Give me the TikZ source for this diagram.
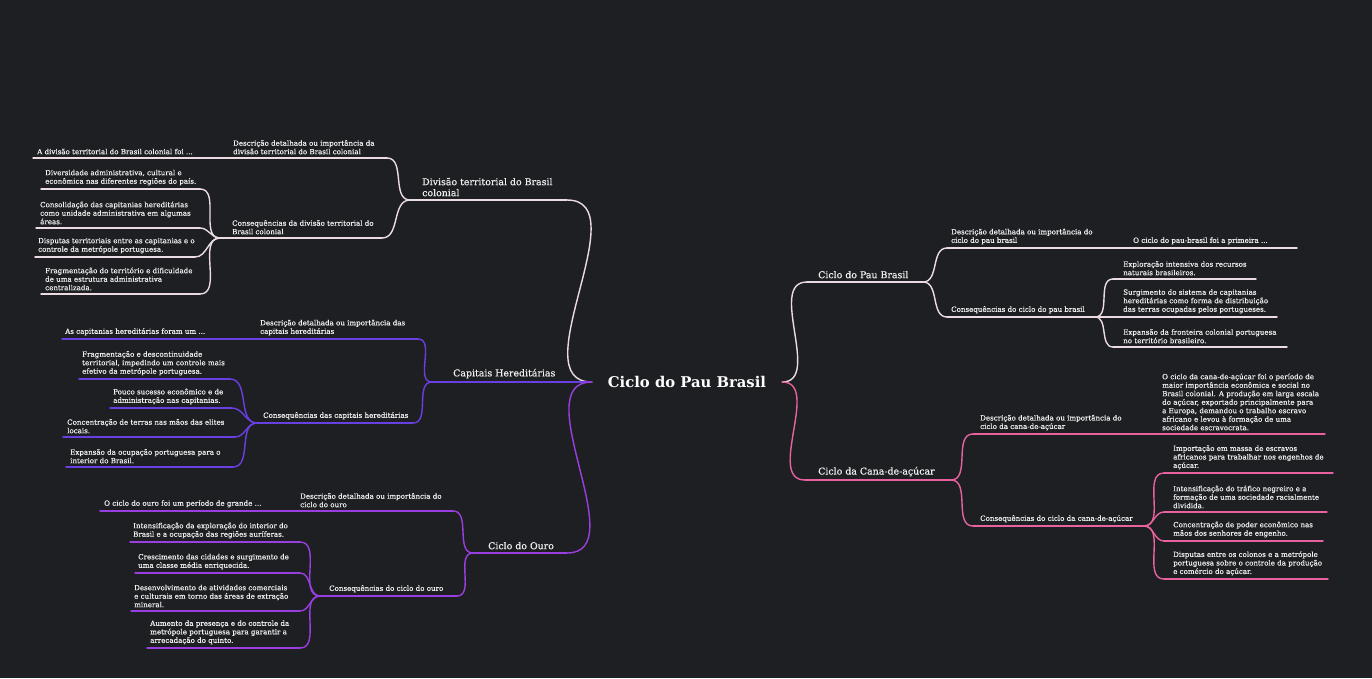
\documentclass[tikz,border=0pt]{standalone}
\usepackage{fontspec}
\setmainfont{DejaVu Serif}
\newfontfamily\smfont[FakeBold=0.35]{DejaVu Serif}
\definecolor{bg}{HTML}{1E1F23}
\definecolor{cW}{HTML}{EBDCE3}
\definecolor{cC}{HTML}{6A3FE2}
\definecolor{cO}{HTML}{9B3EE0}
\definecolor{cK}{HTML}{E8629F}
\definecolor{txt}{HTML}{F0F0F0}
\newcommand{\mmnode}[8]{%
  \coordinate (#1-l) at (#6,#5);
  \coordinate (#1-r) at (#7,#5);
  \draw[#2] (#1-l) -- (#1-r);
  \node[#3, anchor=south west] (#1) at (#4,#5-3.5) {#8};
}
\tikzset{
  x=1pt, y=-1pt,
  ln/.style={line width=1.4pt, line cap=round},
  lw/.style={ln, draw=cW}, lc/.style={ln, draw=cC}, lo/.style={ln, draw=cO}, lk/.style={ln, draw=cK},
  sm/.style={text=txt, inner sep=0pt, align=left, font=\smfont\fontsize{7.1}{8.5}\selectfont},
  br/.style={text=txt, inner sep=0pt, align=left, font=\smfont\fontsize{9.4}{11}\selectfont},
  rootst/.style={text=white, inner sep=0pt, minimum width=190pt, minimum height=16pt, font=\bfseries\fontsize{14.8}{17}\selectfont},
  cv/.style={out=180, in=0},
  cvr/.style={out=0, in=180}
}
\begin{document}
\begin{tikzpicture}
\fill[bg] (0,0) rectangle (1372,678);
\useasboundingbox (0,0) rectangle (1372,678);
\node[rootst] (root) at (687,382) {Ciclo do Pau Brasil};

% ---------------- Divisao territorial
\mmnode{D}{lw}{br}{422}{200}{410}{567}{Divisão territorial do Brasil\\colonial}
\mmnode{D1}{lw}{sm}{233}{158}{202}{387}{Descrição detalhada ou importância da\\divisão territorial do Brasil colonial}
\mmnode{D1a}{lw}{sm}{37}{158}{33}{202}{A divisão territorial do Brasil colonial foi ...}
\mmnode{D2}{lw}{sm}{232}{238}{220}{382}{Consequências da divisão territorial do\\Brasil colonial}
\mmnode{D2a}{lw}{sm}{45}{189}{41}{200}{Diversidade administrativa, cultural e\\econômica nas diferentes regiões do país.}
\mmnode{D2b}{lw}{sm}{40}{228}{36}{200}{Consolidação das capitanias hereditárias\\como unidade administrativa em algumas\\áreas.}
\mmnode{D2c}{lw}{sm}{38}{257}{35}{195}{Disputas territoriais entre as capitanias e o\\controle da metrópole portuguesa.}
\mmnode{D2d}{lw}{sm}{45}{294}{41}{200}{Fragmentação do território e dificuldade\\de uma estrutura administrativa\\centralizada.}
\draw[lw] (root.west) to[cv] (D-r);
\draw[lw] (D-l) to[cv] (D1-r);
\draw[lw] (D1-l) -- (D1a-r);
\draw[lw] (D-l) to[cv] (D2-r);
\foreach \n in {D2a,D2b,D2c,D2d} \draw[lw] (D2-l) to[cv] (\n-r);

% ---------------- Capitais
\mmnode{C}{lc}{br}{453}{382}{432}{585}{Capitais Hereditárias}
\mmnode{C1}{lc}{sm}{260}{339}{230}{418}{Descrição detalhada ou importância das\\capitais hereditárias}
\mmnode{C1a}{lc}{sm}{65}{339}{62}{230}{As capitanias hereditárias foram um ...}
\mmnode{C2}{lc}{sm}{263}{423}{257}{413}{Consequências das capitais hereditárias}
\mmnode{C2a}{lc}{sm}{82}{379}{79}{230}{Fragmentação e descontinuidade\\territorial, impedindo um controle mais\\efetivo da metrópole portuguesa.}
\mmnode{C2b}{lc}{sm}{113}{408}{110}{232}{Pouco sucesso econômico e de\\administração nas capitanias.}
\mmnode{C2c}{lc}{sm}{67}{437}{63}{235}{Concentração de terras nas mãos das elites\\locais.}
\mmnode{C2d}{lc}{sm}{70}{467}{66}{233}{Expansão da ocupação portuguesa para o\\interior do Brasil.}
\draw[lc] (root.west) -- (C-r);
\draw[lc] (C-l) to[cv] (C1-r);
\draw[lc] (C1-l) -- (C1a-r);
\draw[lc] (C-l) to[cv] (C2-r);
\foreach \n in {C2a,C2b,C2c,C2d} \draw[lc] (C2-l) to[cv] (\n-r);

% ---------------- Ouro
\mmnode{O}{lo}{br}{488}{553}{473}{567}{Ciclo do Ouro}
\mmnode{O1}{lo}{sm}{300}{511}{292}{453}{Descrição detalhada ou importância do\\ciclo do ouro}
\mmnode{O1a}{lo}{sm}{104}{511}{100}{292}{O ciclo do ouro foi um período de grande ...}
\mmnode{O2}{lo}{sm}{329}{596}{320}{457}{Consequências do ciclo do ouro}
\mmnode{O2a}{lo}{sm}{133}{542}{130}{300}{Intensificação da exploração do interior do\\Brasil e a ocupação das regiões auríferas.}
\mmnode{O2b}{lo}{sm}{138}{573}{135}{300}{Crescimento das cidades e surgimento de\\uma classe média enriquecida.}
\mmnode{O2c}{lo}{sm}{134}{611}{131}{300}{Desenvolvimento de atividades comerciais\\e culturais em torno das áreas de extração\\mineral.}
\mmnode{O2d}{lo}{sm}{150}{648}{147}{300}{Aumento da presença e do controle da\\metrópole portuguesa para garantir a\\arrecadação do quinto.}
\draw[lo] (root.west) to[cv] (O-r);
\draw[lo] (O-l) to[cv] (O1-r);
\draw[lo] (O1-l) -- (O1a-r);
\draw[lo] (O-l) to[cv] (O2-r);
\foreach \n in {O2a,O2b,O2c,O2d} \draw[lo] (O2-l) to[cv] (\n-r);

% ---------------- Pau Brasil
\mmnode{P}{lw}{br}{818}{282}{807}{923}{Ciclo do Pau Brasil}
\mmnode{P1}{lw}{sm}{951}{248}{947}{1102}{Descrição detalhada ou importância do\\ciclo do pau brasil}
\mmnode{P1a}{lw}{sm}{1133}{248}{1102}{1297}{O ciclo do pau-brasil foi a primeira ...}
\mmnode{P2}{lw}{sm}{951}{317}{947}{1095}{Consequências do ciclo do pau brasil}
\mmnode{P2a}{lw}{sm}{1123}{279}{1113}{1256}{Exploração intensiva dos recursos\\naturais brasileiros.}
\mmnode{P2b}{lw}{sm}{1123}{317}{1113}{1277}{Surgimento do sistema de capitanias\\hereditárias como forma de distribuição\\das terras ocupadas pelos portugueses.}
\mmnode{P2c}{lw}{sm}{1123}{347}{1113}{1287}{Expansão da fronteira colonial portuguesa\\no território brasileiro.}
\draw[lw] (root.east) to[cvr] (P-l);
\draw[lw] (P-r) to[cvr] (P1-l);
\draw[lw] (P1-r) -- (P1a-l);
\draw[lw] (P-r) to[cvr] (P2-l);
\foreach \n in {P2a,P2b,P2c} \draw[lw] (P2-r) to[cvr] (\n-l);

% ---------------- Cana
\mmnode{K}{lk}{br}{818}{480}{805}{951}{Ciclo da Cana-de-açúcar}
\mmnode{K1}{lk}{sm}{980}{434}{973}{1140}{Descrição detalhada ou importância do\\ciclo da cana-de-açúcar}
\mmnode{K1a}{lk}{sm}{1162}{434}{1140}{1325}{O ciclo da cana-de-açúcar foi o período de\\maior importância econômica e social no\\Brasil colonial. A produção em larga escala\\do açúcar, exportado principalmente para\\a Europa, demandou o trabalho escravo\\africano e levou à formação de uma\\sociedade escravocrata.}
\mmnode{K2}{lk}{sm}{980}{526}{973}{1144}{Consequências do ciclo da cana-de-açúcar}
\mmnode{K2a}{lk}{sm}{1173}{473}{1164}{1333}{Importação em massa de escravos\\africanos para trabalhar nos engenhos de\\açúcar.}
\mmnode{K2b}{lk}{sm}{1173}{512}{1164}{1327}{Intensificação do tráfico negreiro e a\\formação de uma sociedade racialmente\\dividida.}
\mmnode{K2c}{lk}{sm}{1173}{541}{1164}{1323}{Concentração de poder econômico nas\\mãos dos senhores de engenho.}
\mmnode{K2d}{lk}{sm}{1173}{579}{1164}{1328}{Disputas entre os colonos e a metrópole\\portuguesa sobre o controle da produção\\e comércio do açúcar.}
\draw[lk] (root.east) to[cvr] (K-l);
\draw[lk] (K-r) to[cvr] (K1-l);
\draw[lk] (K1-r) -- (K1a-l);
\draw[lk] (K-r) to[cvr] (K2-l);
\foreach \n in {K2a,K2b,K2c,K2d} \draw[lk] (K2-r) to[cvr] (\n-l);
\end{tikzpicture}
\end{document}
